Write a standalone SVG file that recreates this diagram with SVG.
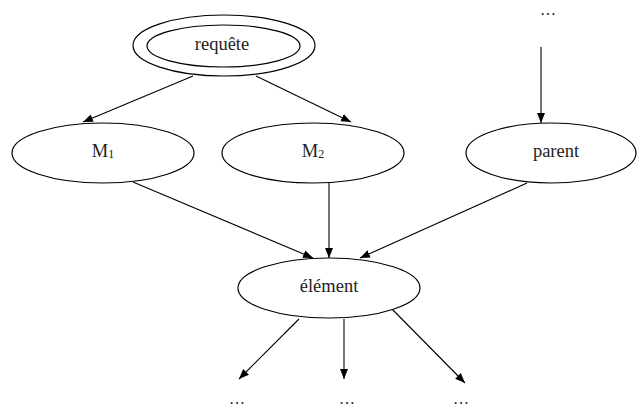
<svg xmlns="http://www.w3.org/2000/svg" width="637" height="407" viewBox="0 0 637 407">
<style>
.n{fill:#fff;stroke:#000;stroke-width:1.2}
.t{font-family:"Liberation Serif","Times New Roman",serif;font-size:18.5px;fill:#222;text-anchor:middle}
.d{font-family:"Liberation Serif","Times New Roman",serif;font-size:16px;fill:#222;text-anchor:middle}
.e{stroke:#000;stroke-width:1.1;fill:none;marker-end:url(#ah)}
</style>
<defs>
<marker id="ah" viewBox="0 0 10 10" refX="10" refY="5" markerWidth="10" markerHeight="10" markerUnits="userSpaceOnUse" orient="auto">
<path d="M0,1 L10,5 L0,9 Z" fill="#000"/>
</marker>
</defs>
<rect width="637" height="407" fill="#fff"/>
<g id="connectors">
<line class="e" x1="193" y1="76" x2="83" y2="122"/>
<line class="e" x1="256" y1="76" x2="351" y2="122"/>
<line class="e" x1="541" y1="47" x2="541" y2="123"/>
<line class="e" x1="133" y1="182" x2="313" y2="258"/>
<line class="e" x1="329" y1="183" x2="329" y2="258"/>
<line class="e" x1="527" y1="183" x2="360" y2="258"/>
<line class="e" x1="299" y1="319" x2="239" y2="379"/>
<line class="e" x1="344" y1="319" x2="344" y2="379"/>
<line class="e" x1="390" y1="307" x2="465" y2="383"/>
</g>
<g id="requete">
<ellipse class="n" cx="224" cy="45.5" rx="91" ry="30.5"/>
<ellipse class="n" cx="223.5" cy="46" rx="76.5" ry="21"/>
<text class="t" x="222" y="50">requête</text>
</g>
<g id="M1">
<ellipse class="n" cx="103" cy="153" rx="91" ry="30"/>
<text class="t" x="103" y="157">M<tspan font-size="12" dy="1">1</tspan></text>
</g>
<g id="M2">
<ellipse class="n" cx="313" cy="153" rx="91" ry="30"/>
<text class="t" x="313" y="157">M<tspan font-size="12" dy="1">2</tspan></text>
</g>
<g id="parent">
<ellipse class="n" cx="551" cy="153" rx="85" ry="30"/>
<text class="t" x="556" y="157">parent</text>
</g>
<g id="element">
<ellipse class="n" cx="329" cy="288" rx="91" ry="30"/>
<text class="t" x="329" y="292">élément</text>
</g>
<g id="dots-top"><text class="d" x="548" y="15">…</text></g>
<g id="dots-1"><text class="d" x="237" y="404">…</text></g>
<g id="dots-2"><text class="d" x="347" y="404">…</text></g>
<g id="dots-3"><text class="d" x="461" y="404">…</text></g>
</svg>
